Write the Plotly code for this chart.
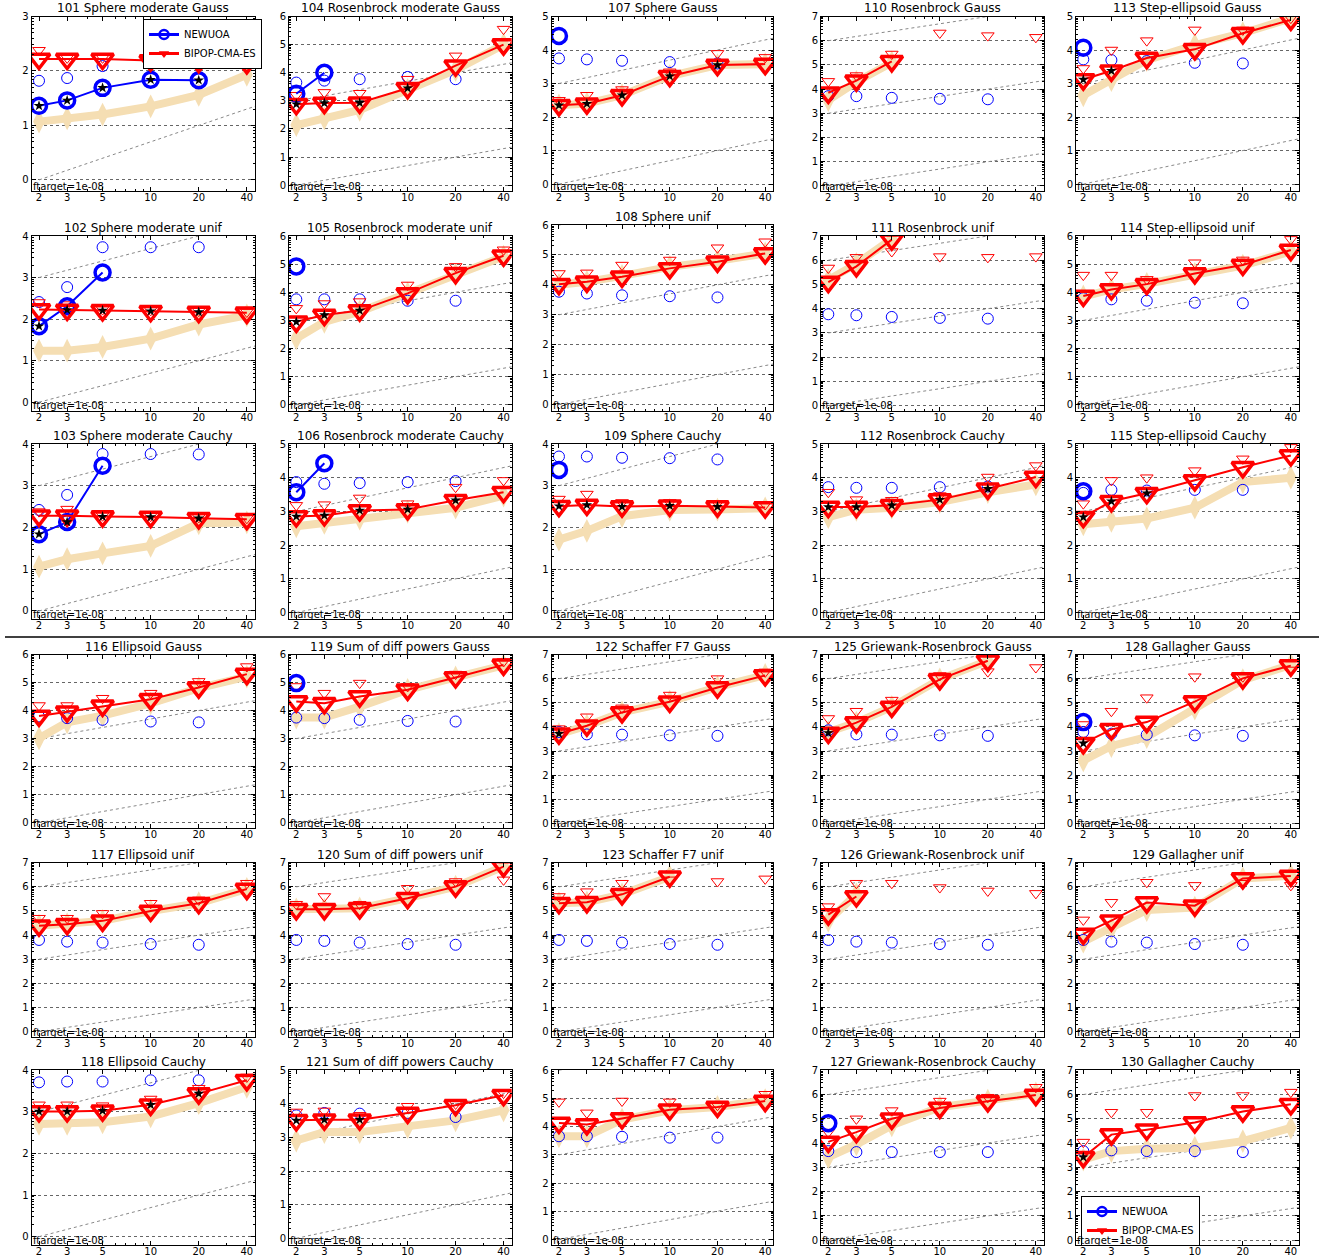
import math
import plotly.graph_objects as go

# ---------------- data (log10 of ERT / dimension) ----------------
DIMS = [2, 3, 5, 10, 20, 40]
TICK_LABELS = ["2", "3", "5", "10", "20", "40"]

FUNC_IDS = list(range(101, 131))
FUNC_NAMES = [
    "Sphere moderate Gauss", "Sphere moderate unif", "Sphere moderate Cauchy",
    "Rosenbrock moderate Gauss", "Rosenbrock moderate unif", "Rosenbrock moderate Cauchy",
    "Sphere Gauss", "Sphere unif", "Sphere Cauchy",
    "Rosenbrock Gauss", "Rosenbrock unif", "Rosenbrock Cauchy",
    "Step-ellipsoid Gauss", "Step-ellipsoid unif", "Step-ellipsoid Cauchy",
    "Ellipsoid Gauss", "Ellipsoid unif", "Ellipsoid Cauchy",
    "Sum of diff powers Gauss", "Sum of diff powers unif", "Sum of diff powers Cauchy",
    "Schaffer F7 Gauss", "Schaffer F7 unif", "Schaffer F7 Cauchy",
    "Griewank-Rosenbrock Gauss", "Griewank-Rosenbrock unif", "Griewank-Rosenbrock Cauchy",
    "Gallagher Gauss", "Gallagher unif", "Gallagher Cauchy",
]
YMAX = [3, 4, 4, 6, 6, 5, 5, 6, 4, 7, 7, 5, 5, 6, 5,
        6, 7, 4, 6, 7, 5, 7, 7, 6, 7, 7, 7, 7, 7, 7]

N = None
BEST09 = [
    [1.07, 1.13, 1.20, 1.35, 1.56, 1.93],
    [1.24, 1.24, 1.33, 1.53, 1.87, 2.09],
    [1.06, 1.24, 1.38, 1.56, 2.10, 2.12],
    [2.14, 2.38, 2.68, 3.39, 4.10, 5.00],
    [2.36, 2.95, 3.31, 3.96, 4.62, 5.27],
    [2.56, 2.66, 2.79, 2.99, 3.11, 3.47],
    [2.35, 2.40, 2.65, 3.22, 3.55, 3.58],
    [4.00, 4.10, 4.30, 4.60, 4.80, 5.05],
    [1.71, 1.92, 2.27, 2.42, 2.43, 2.46],
    [3.55, 4.30, 5.10, N, N, N],
    [5.19, 5.85, 6.88, N, N, N],
    [2.83, 3.05, 3.11, 3.28, 3.57, 3.80],
    [2.65, 3.10, 3.70, 4.15, 4.50, 4.95],
    [3.85, 4.10, 4.30, 4.65, 4.95, 5.45],
    [2.62, 2.72, 2.79, 3.11, 3.87, 4.00],
    [3.01, 3.58, 3.82, 4.26, 4.80, 5.21],
    [4.39, 4.45, 4.59, 5.00, 5.32, 5.91],
    [2.71, 2.71, 2.75, 2.89, 3.21, 3.60],
    [3.75, 3.75, 4.14, 4.74, 5.18, 5.61],
    [5.07, 5.07, 5.11, 5.53, 6.01, 6.84],
    [2.91, 3.16, 3.16, 3.31, 3.51, 3.81],
    [3.70, 4.05, 4.60, 5.05, 5.65, 6.15],
    [5.32, 5.36, 5.69, 6.42, N, N],
    [3.66, 3.66, 4.25, 4.58, 4.70, 4.94],
    [3.79, 4.18, 4.83, 5.97, 6.74, N],
    [4.60, 5.70, N, N, N, N],
    [3.42, 3.95, 4.73, 5.48, 5.75, 6.05],
    [2.61, 3.21, 3.58, 4.76, 5.94, 6.57],
    [3.73, 4.28, 5.04, 5.14, 6.35, 6.46],
    [3.32, 3.67, 3.77, 3.81, 4.08, 4.63],
]
CMA_ERT = [
    [2.22, 2.22, 2.22, 2.19, 2.16, 2.14],
    [2.23, 2.22, 2.21, 2.19, 2.17, 2.15],
    [2.28, 2.28, 2.26, 2.25, 2.22, 2.20],
    [2.88, 2.92, 2.93, 3.45, 4.25, 5.00],
    [2.95, 3.19, 3.35, 3.96, 4.68, 5.30],
    [2.85, 2.88, 3.03, 3.06, 3.33, 3.57],
    [2.35, 2.40, 2.65, 3.22, 3.55, 3.58],
    [4.02, 4.10, 4.27, 4.55, 4.77, 5.05],
    [2.51, 2.54, 2.50, 2.52, 2.50, 2.48],
    [3.85, 4.35, 5.15, N, N, N],
    [5.10, 5.75, 6.85, N, N, N],
    [3.13, 3.13, 3.18, 3.35, 3.67, 4.02],
    [3.12, 3.38, 3.76, 4.02, 4.50, 4.90],
    [3.87, 4.10, 4.29, 4.67, 4.97, 5.50],
    [2.83, 3.30, 3.54, 3.92, 4.31, 4.66],
    [3.81, 3.96, 4.17, 4.40, 4.82, 5.30],
    [4.39, 4.45, 4.59, 5.00, 5.32, 5.91],
    [3.01, 3.01, 3.03, 3.17, 3.44, 3.76],
    [4.32, 4.26, 4.50, 4.74, 5.18, 5.63],
    [5.07, 5.07, 5.11, 5.53, 6.01, 6.84],
    [3.51, 3.53, 3.53, 3.73, 3.96, 4.26],
    [3.72, 4.05, 4.60, 5.04, 5.63, 6.13],
    [5.32, 5.36, 5.69, 6.42, N, N],
    [4.13, 4.08, 4.29, 4.60, 4.70, 4.91],
    [3.75, 4.18, 4.83, 5.97, 6.74, N],
    [4.85, 5.60, N, N, N, N],
    [4.05, 4.45, 5.00, 5.45, 5.72, 5.98],
    [3.32, 3.90, 4.20, 5.05, 6.01, 6.54],
    [4.05, 4.60, 5.35, 5.22, 6.35, 6.45],
    [3.42, 4.35, 4.55, 4.85, 5.30, 5.60],
]
CMA_MAX = [
    [2.38, 2.24, 2.24, 2.21, 2.18, 2.16],
    [2.40, 2.35, 2.23, 2.21, 2.19, 2.17],
    [2.38, 2.44, 2.28, 2.27, 2.24, 2.22],
    [3.20, 3.30, 3.27, 3.77, 4.60, 5.55],
    [3.43, 3.60, 3.67, 4.26, 4.92, 5.51],
    [3.18, 3.20, 3.40, 3.23, 3.72, 3.92],
    [2.50, 2.65, 2.82, 3.35, 3.90, 3.78],
    [4.38, 4.40, 4.66, 4.83, 5.24, 5.44],
    [2.68, 2.80, 2.60, 2.60, 2.58, 2.55],
    [4.32, 4.56, 5.45, 6.32, 6.21, 6.14],
    [5.68, 6.12, 6.36, 6.15, 6.12, 6.15],
    [3.57, 3.35, 3.33, 3.47, 4.02, 4.36],
    [3.45, 4.00, 4.28, 4.60, 4.60, 4.95],
    [4.61, 4.61, 4.46, 5.05, 5.15, 5.88],
    [3.23, 3.92, 4.00, 4.21, 4.56, 4.90],
    [4.18, 4.18, 4.44, 4.62, 5.04, 5.57],
    [4.70, 4.70, 4.90, 5.32, 5.46, 6.15],
    [3.17, 3.17, 3.15, 3.31, 3.57, 3.84],
    [4.86, 4.62, 4.98, 4.86, 5.30, 5.75],
    [5.28, 5.60, 5.28, 5.94, 6.22, 6.29],
    [3.76, 3.79, 3.66, 3.93, 4.00, 4.32],
    [3.93, 4.42, 4.79, 5.32, 6.00, 6.28],
    [5.60, 5.80, 6.15, 6.29, 6.22, 6.33],
    [4.88, 4.49, 4.91, 4.88, 4.76, 5.15],
    [4.35, 4.65, 5.11, 6.13, 6.29, 6.46],
    [5.18, 6.15, 6.15, 5.97, 5.83, 5.73],
    [4.45, 5.00, 5.34, 5.73, 5.89, 6.30],
    [4.10, 4.65, 5.21, 6.08, 6.08, 6.36],
    [4.63, 5.36, 6.19, 6.06, 6.15, 6.06],
    [4.04, 5.27, 5.27, 5.96, 5.96, 6.10],
]
NEW_ERT = [
    [1.36, 1.46, 1.69, 1.84, 1.83, N],
    [1.83, 2.31, 3.12, N, N, N],
    [1.84, 2.13, 3.48, N, N, N],
    [3.25, 4.00, N, N, N, N],
    [4.92, N, N, N, N, N],
    [3.57, 4.43, N, N, N, N],
    [4.42, N, N, N, N, N],
    [N, N, N, N, N, N],
    [3.38, N, N, N, N, N],
    [N, N, N, N, N, N],
    [N, N, N, N, N, N],
    [N, N, N, N, N, N],
    [4.07, N, N, N, N, N],
    [N, N, N, N, N, N],
    [3.60, N, N, N, N, N],
    [N, N, N, N, N, N],
    [N, N, N, N, N, N],
    [N, N, N, N, N, N],
    [4.98, N, N, N, N, N],
    [N, N, N, N, N, N],
    [N, N, N, N, N, N],
    [N, N, N, N, N, N],
    [N, N, N, N, N, N],
    [N, N, N, N, N, N],
    [N, N, N, N, N, N],
    [N, N, N, N, N, N],
    [4.82, N, N, N, N, N],
    [4.20, N, N, N, N, N],
    [N, N, N, N, N, N],
    [N, N, N, N, N, N],
]
NEW_MAX = [
    [1.82, 1.87, 2.09, 2.18, 2.18, N],
    [2.41, 2.77, 3.73, 3.73, 3.73, N],
    [2.42, 2.78, 3.76, 3.76, 3.75, N],
    [3.65, 3.72, 3.77, 3.85, 3.77, N],
    [3.75, 3.75, 3.75, 3.70, 3.70, N],
    [3.87, 3.82, 3.84, 3.87, 3.90, N],
    [3.75, 3.72, 3.68, 3.64, 3.60, N],
    [3.77, 3.71, 3.65, 3.62, 3.58, N],
    [3.70, 3.70, 3.67, 3.66, 3.63, N],
    [3.71, 3.71, 3.64, 3.60, 3.58, N],
    [3.77, 3.73, 3.66, 3.62, 3.59, N],
    [3.72, 3.70, 3.70, 3.72, 3.74, N],
    [3.72, 3.70, 3.67, 3.62, 3.60, N],
    [3.79, 3.75, 3.70, 3.63, 3.61, N],
    [3.55, 3.64, 3.62, 3.64, 3.64, N],
    [3.79, 3.73, 3.67, 3.61, 3.58, N],
    [3.80, 3.73, 3.69, 3.63, 3.60, N],
    [3.71, 3.73, 3.73, 3.76, 3.76, N],
    [3.75, 3.73, 3.67, 3.63, 3.61, N],
    [3.80, 3.76, 3.69, 3.63, 3.60, N],
    [3.66, 3.73, 3.71, 3.73, 3.61, N],
    [3.79, 3.69, 3.68, 3.65, 3.63, N],
    [3.80, 3.76, 3.69, 3.63, 3.60, N],
    [3.66, 3.66, 3.64, 3.61, 3.61, N],
    [3.86, 3.69, 3.68, 3.65, 3.63, N],
    [3.80, 3.73, 3.69, 3.63, 3.60, N],
    [3.67, 3.63, 3.63, 3.63, 3.63, N],
    [3.79, 3.72, 3.68, 3.65, 3.63, N],
    [3.80, 3.73, 3.69, 3.63, 3.60, N],
    [3.67, 3.70, 3.67, 3.67, 3.63, N],
]
# which algorithm carries a black star at each dimension: n = NEWUOA, c = BIPOP-CMA-ES
STARS = [
    "nnnnn.", "ncccc.", "nnccc.", "cccc..", "ccc...", "ccccc.",
    "ccccc.", "......", "ccccc.", "......", "......", "ccccc.",
    "cc....", "......", "ccc...", "......", "......", "ccccc.",
    "......", "......", "ccc...", "c.....", "......", "......",
    "c.....", "......", "......", "c.....", "......", "c.....",
]

# ---------------- layout geometry (target pixels in the page) ----------------
W, H = 1319, 1257
COL_X = [(31.7, 255.0), (289.0, 511.7), (551.7, 773.3), (821.0, 1044.0), (1076.0, 1299.0)]
ROW_Y = [(16.5, 190.8), (236.0, 410.5), (444.0, 619.3),
         (654.5, 828.3), (862.7, 1036.5), (1070.3, 1245.0)]
TOP_OVERRIDE = {108: 225.0}


def px(xp):
    return xp / W


def py(yp):
    return 1 - yp / H


FONT = "DejaVu Sans"
WHEAT = "#F5DEB3"
BLUE = "#0000FF"
RED = "#FF0000"

fig = go.Figure()
layout = {}
annotations = []

for idx, fid in enumerate(FUNC_IDS):
    if idx < 15:
        row, col = idx % 3, idx // 3
    else:
        j = idx - 15
        row, col = 3 + j % 3, j // 3
    k = idx + 1
    xs, ys = ("x" if k == 1 else f"x{k}"), ("y" if k == 1 else f"y{k}")
    x0, x1 = COL_X[col]
    yt, yb = ROW_Y[row]
    yt = TOP_OVERRIDE.get(fid, yt)
    ymax = YMAX[idx]

    minor_y = [n + math.log10(m) for n in range(ymax) for m in range(2, 10)]
    layout[f"xaxis{'' if k == 1 else k}"] = dict(
        type="log", range=[math.log10(1.8), math.log10(45)],
        domain=[px(x0), px(x1)], anchor=ys, automargin=False,
        tickvals=DIMS, ticktext=TICK_LABELS, ticks="inside", ticklen=4,
        tickcolor="black", mirror="allticks", showline=True, linecolor="black",
        linewidth=1, showgrid=False, zeroline=False, ticklabelstandoff=-3,
        tickfont=dict(family=FONT, size=10, color="black"),
        minor=dict(tickvals=[4, 6, 7, 8, 9, 30], ticks="inside", ticklen=2,
                   tickcolor="black", showgrid=False),
    )
    layout[f"yaxis{'' if k == 1 else k}"] = dict(
        range=[-0.2, ymax], domain=[py(yb), py(yt)], anchor=xs, automargin=False,
        tickvals=list(range(ymax + 1)), ticks="inside", ticklen=4,
        tickcolor="black", mirror="allticks", showline=True, linecolor="black",
        linewidth=1, showgrid=True, gridcolor="#666", griddash="dot", gridwidth=1,
        zeroline=False, tickfont=dict(family=FONT, size=10, color="black"),
        minor=dict(tickvals=minor_y, ticks="inside", ticklen=2,
                   tickcolor="black", showgrid=False),
    )

    # slanted reference lines (linear scaling)
    gx, gy = [], []
    for off in (0, 3, 6):
        gx += [2, 200, None]
        gy += [off, off + 2, None]
    fig.add_trace(go.Scatter(x=gx, y=gy, xaxis=xs, yaxis=ys, mode="lines",
                             line=dict(color="#888", width=1, dash="dot"),
                             showlegend=False, hoverinfo="skip"))
    # best 2009
    fig.add_trace(go.Scatter(x=DIMS, y=BEST09[idx], xaxis=xs, yaxis=ys,
                             mode="lines+markers",
                             line=dict(color=WHEAT, width=8),
                             marker=dict(symbol="diamond-tall", size=17, color=WHEAT),
                             showlegend=False))
    # maximum evaluations (small symbols)
    fig.add_trace(go.Scatter(x=DIMS, y=NEW_MAX[idx], xaxis=xs, yaxis=ys, mode="markers",
                             marker=dict(symbol="circle-open", size=11, color=BLUE,
                                         line=dict(width=1)),
                             showlegend=False))
    fig.add_trace(go.Scatter(x=DIMS, y=CMA_MAX[idx], xaxis=xs, yaxis=ys, mode="markers",
                             marker=dict(symbol="triangle-down-open", size=11, color=RED,
                                         line=dict(width=1)),
                             showlegend=False))
    # ERT
    fig.add_trace(go.Scatter(x=DIMS, y=NEW_ERT[idx], xaxis=xs, yaxis=ys,
                             mode="lines+markers", line=dict(color=BLUE, width=2),
                             marker=dict(symbol="circle-open", size=15, color=BLUE,
                                         line=dict(width=3.5)),
                             showlegend=False))
    fig.add_trace(go.Scatter(x=DIMS, y=CMA_ERT[idx], xaxis=xs, yaxis=ys,
                             mode="lines+markers", line=dict(color=RED, width=2),
                             marker=dict(symbol="triangle-down-open", size=19, color=RED,
                                         line=dict(width=3.5)),
                             showlegend=False))
    # stars
    sx, sy = [], []
    for d, code, yn, yc in zip(DIMS, STARS[idx], NEW_ERT[idx], CMA_ERT[idx]):
        if code == "n":
            sx.append(d); sy.append(yn)
        elif code == "c":
            sx.append(d); sy.append(yc)
    if sx:
        fig.add_trace(go.Scatter(x=sx, y=sy, xaxis=xs, yaxis=ys, mode="markers",
                                 marker=dict(symbol="star", size=8, color="black"),
                                 showlegend=False))

    annotations.append(dict(text=f"{fid} {FUNC_NAMES[idx]}", xref=f"{xs} domain",
                            yref=f"{ys} domain", x=0.5, y=1, xanchor="center",
                            yanchor="bottom", yshift=-1, showarrow=False,
                            font=dict(family=FONT, size=12, color="black")))
    annotations.append(dict(text="ftarget=1e-08", xref=f"{xs} domain",
                            yref=f"{ys} domain", x=0, y=0, xanchor="left",
                            yanchor="bottom", yshift=-3, xshift=-1, showarrow=False,
                            font=dict(family=FONT, size=10, color="black")))

# legends (one in first panel, one in last panel)
for leg in ("legend", "legend2"):
    fig.add_trace(go.Scatter(x=[None], y=[None], mode="lines+markers", name="NEWUOA",
                             line=dict(color=BLUE, width=3),
                             marker=dict(symbol="circle-open", size=9, color=BLUE,
                                         line=dict(width=2.5)),
                             legend=leg, showlegend=True))
    fig.add_trace(go.Scatter(x=[None], y=[None], mode="lines+markers", name="BIPOP-CMA-ES",
                             line=dict(color=RED, width=3),
                             marker=dict(symbol="triangle-down", size=9, color=RED),
                             legend=leg, showlegend=True))

legend_style = dict(bgcolor="white", bordercolor="black", borderwidth=1,
                    font=dict(family=FONT, size=10, color="black"),
                    xanchor="left", yanchor="top", itemwidth=30, tracegroupgap=0)

fig.update_layout(
    width=W, height=H, margin=dict(l=0, r=0, t=0, b=0, autoexpand=False),
    paper_bgcolor="white", plot_bgcolor="white",
    annotations=annotations,
    shapes=[dict(type="line", xref="paper", yref="paper", x0=px(5), x1=1,
                 y0=py(637), y1=py(637), line=dict(color="black", width=1.5))],
    legend=dict(x=px(143), y=py(19), **legend_style),
    legend2=dict(x=px(1081), y=py(1196), **legend_style),
    **layout,
)

fig.write_html("out.html", config={"displayModeBar": False},
               post_script="document.body.style.margin='0px';")
